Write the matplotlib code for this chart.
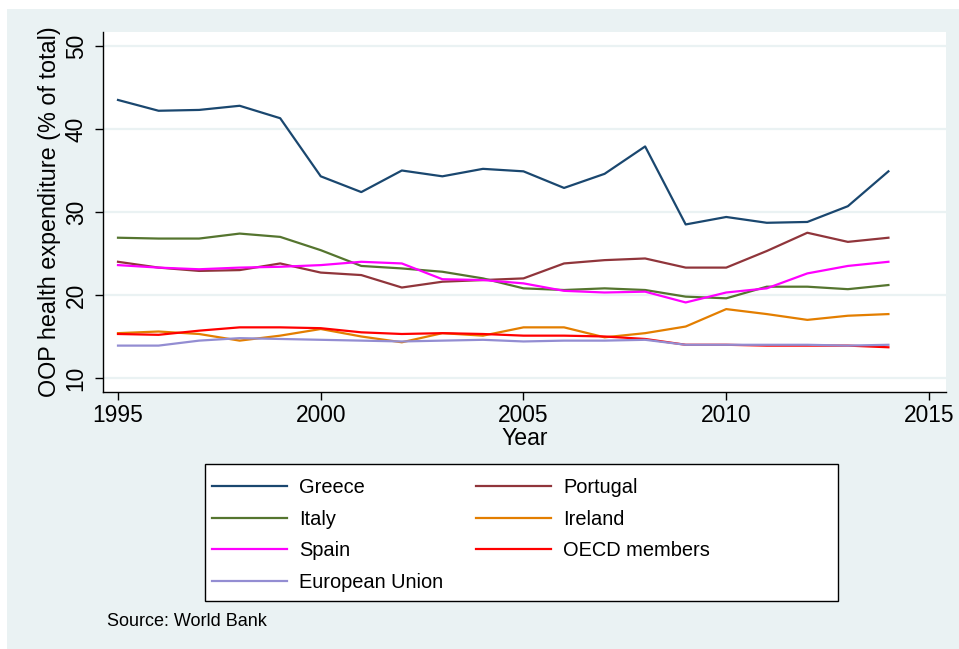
import matplotlib
matplotlib.use("Agg")
import matplotlib.pyplot as plt
from matplotlib.patches import Rectangle

plt.rcParams['font.family'] = ['Liberation Sans', 'DejaVu Sans']

years = list(range(1995, 2015))
greece = [43.5, 42.2, 42.3, 42.8, 41.3, 34.3, 32.4, 35.0, 34.3, 35.2,
          34.9, 32.9, 34.6, 37.9, 28.5, 29.4, 28.7, 28.8, 30.7, 34.9]
portugal = [24.0, 23.3, 22.9, 23.0, 23.8, 22.7, 22.4, 20.9, 21.6, 21.8,
            22.0, 23.8, 24.2, 24.4, 23.3, 23.3, 25.3, 27.5, 26.4, 26.9]
italy = [26.9, 26.8, 26.8, 27.4, 27.0, 25.4, 23.5, 23.2, 22.8, 22.0,
         20.8, 20.6, 20.8, 20.6, 19.8, 19.6, 21.0, 21.0, 20.7, 21.2]
ireland = [15.4, 15.6, 15.3, 14.5, 15.1, 15.9, 15.0, 14.3, 15.4, 15.1,
           16.1, 16.1, 14.9, 15.4, 16.2, 18.3, 17.7, 17.0, 17.5, 17.7]
spain = [23.6, 23.3, 23.1, 23.3, 23.4, 23.6, 24.0, 23.8, 21.9, 21.8,
         21.4, 20.5, 20.3, 20.4, 19.1, 20.3, 20.8, 22.6, 23.5, 24.0]
oecd = [15.3, 15.2, 15.7, 16.1, 16.1, 16.0, 15.5, 15.3, 15.4, 15.3,
        15.1, 15.1, 15.0, 14.7, 14.0, 14.0, 13.9, 13.9, 13.9, 13.7]
eu = [13.9, 13.9, 14.5, 14.8, 14.7, 14.6, 14.5, 14.4, 14.5, 14.6,
      14.4, 14.5, 14.5, 14.6, 14.0, 14.0, 14.0, 14.0, 13.9, 14.0]

series = [
    ("Greece", greece, "#1a476f"),
    ("Portugal", portugal, "#90353b"),
    ("Italy", italy, "#55752f"),
    ("Ireland", ireland, "#e37e00"),
    ("Spain", spain, "#ff00ff"),
    ("OECD members", oecd, "#ff0000"),
    ("European Union", eu, "#938dd2"),
]
xticks = [1995, 2000, 2005, 2010, 2015]
yticks = [10, 20, 30, 40, 50]

W, H = 959, 649
fig = plt.figure(figsize=(W / 100, H / 100), dpi=100)
fig.patch.set_facecolor("white")
# outer light panel
fig.patches.append(Rectangle((7 / W, 0), 1 - 7 / W, 1 - 9 / H, transform=fig.transFigure,
                             facecolor="#eaf2f3", edgecolor="none", zorder=0))

ax = fig.add_axes([103 / W, (H - 392) / H, 843 / W, 360 / H])
ax.set_zorder(2)
ax.set_facecolor("white")
lines = {}
for name, vals, col in series:
    lines[name], = ax.plot(years, vals, color=col, lw=1.6, label=name, zorder=3)

ax.set_xlim(1994.63, 2015.42)
ax.set_ylim(8.31, 51.69)
ax.set_xticks(xticks)
ax.set_yticks(yticks)
ax.grid(axis="y", color="#eaf2f3", lw=1.6, zorder=1)
ax.grid(axis="x", visible=False)
for s in ["top", "right"]:
    ax.spines[s].set_visible(False)
for s in ["left", "bottom"]:
    ax.spines[s].set_color("black")
    ax.spines[s].set_linewidth(1.0)
ax.tick_params(axis="both", direction="out", length=6, width=1.0, labelsize=16.4, colors="black")
ax.tick_params(axis="x", pad=3)
ax.tick_params(axis="y", pad=5)
for lab in ax.get_yticklabels():
    lab.set_rotation(90)
    lab.set_va("center")

ax.set_xlabel("Year", fontsize=16.6)
ax.set_ylabel("OOP health expenditure (% of total)", fontsize=16.8)
ax.xaxis.set_label_coords(0.5, -0.098)
ax.yaxis.set_label_coords(-0.05, 0.5)

# legend box
fig.patches.append(Rectangle((205 / W, (H - 601) / H), 633 / W, 137 / H, transform=fig.transFigure,
                             facecolor="white", edgecolor="black", lw=1.0, zorder=1))
order = ["Greece", "Italy", "Spain", "European Union", "Portugal", "Ireland", "OECD members"]
leg = fig.legend([lines[n] for n in order], order, ncol=2, loc="upper left",
                 bbox_to_anchor=(212 / W, (H - 478) / H), frameon=False,
                 fontsize=14.4, handlelength=3.75, handletextpad=0.6,
                 columnspacing=1.65, labelspacing=0.63, borderpad=0, borderaxespad=0)
leg.set_zorder(3)

fig.text(107 / W, (H - 621) / H, "Source: World Bank", fontsize=13, va="center", ha="left")

fig.savefig("out.png", dpi=100)
